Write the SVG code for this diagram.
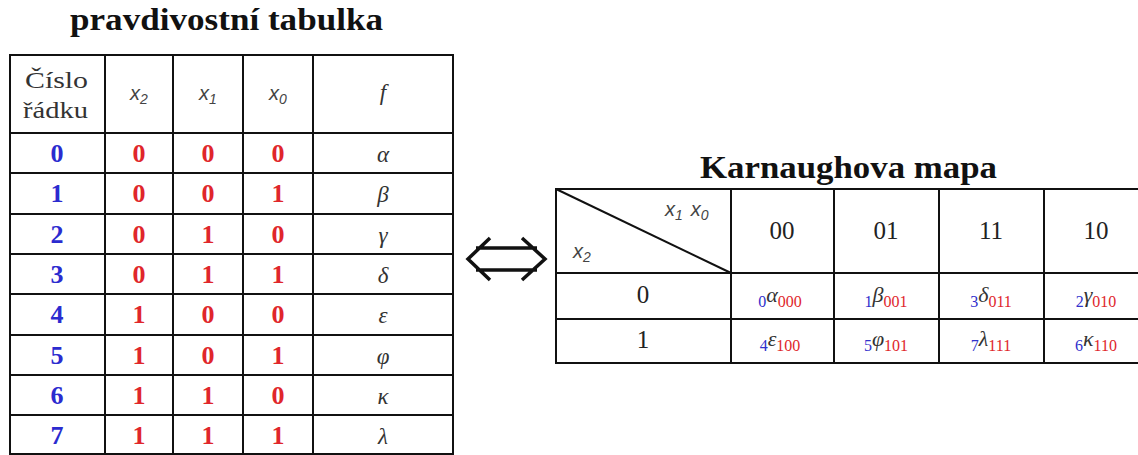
<svg xmlns="http://www.w3.org/2000/svg" width="1138" height="455" viewBox="0 0 1138 455">
<style>
.title{font-family:"Liberation Serif",serif;font-weight:bold;font-size:31px;fill:#111}
.grid line,.grid rect{stroke:#111;stroke-width:2;fill:none}
.num{font-family:"Liberation Serif",serif;font-weight:bold;font-size:26px;text-anchor:middle}
.blue{fill:#2b2bcf}
.red{fill:#e0262b}
.gk{font-family:"Liberation Serif",serif;font-style:italic;font-size:23px;fill:#333;text-anchor:middle}
.var{font-family:"Liberation Sans",sans-serif;font-style:italic;font-size:20px;fill:#444}
.sub{font-size:14px}
.hdr{font-family:"Liberation Serif",serif;font-size:24px;fill:#333}
.km{font-family:"Liberation Serif",serif;font-size:25px;fill:#222;text-anchor:middle}
.cell{font-family:"Liberation Serif",serif;text-anchor:middle}
.ci{font-size:16px;fill:#3030cc}
.cg{font-size:22px;font-style:italic;fill:#333}
.cb{font-size:16px;fill:#e0262b}
</style>
<rect width="1138" height="455" fill="#fff"/>

<g id="truth-table">
<text class="title" x="70" y="30" textLength="313" lengthAdjust="spacingAndGlyphs">pravdivostní tabulka</text>
<g class="grid">
<rect x="10" y="55" width="443" height="399"/>
<line x1="105" y1="55" x2="105" y2="454"/>
<line x1="173" y1="55" x2="173" y2="454"/>
<line x1="243" y1="55" x2="243" y2="454"/>
<line x1="313" y1="55" x2="313" y2="454"/>
<line x1="10" y1="133" x2="453" y2="133"/>
<line x1="10" y1="173" x2="453" y2="173"/>
<line x1="10" y1="214" x2="453" y2="214"/>
<line x1="10" y1="254" x2="453" y2="254"/>
<line x1="10" y1="294" x2="453" y2="294"/>
<line x1="10" y1="335" x2="453" y2="335"/>
<line x1="10" y1="375" x2="453" y2="375"/>
<line x1="10" y1="415" x2="453" y2="415"/>
</g>
<text class="hdr" x="25" y="88" textLength="63" lengthAdjust="spacingAndGlyphs">Číslo</text>
<text class="hdr" x="23" y="118" textLength="65" lengthAdjust="spacingAndGlyphs">řádku</text>
<text class="var" x="139" y="100" text-anchor="middle">x<tspan class="sub" dy="4">2</tspan></text>
<text class="var" x="208" y="100" text-anchor="middle">x<tspan class="sub" dy="4">1</tspan></text>
<text class="var" x="278" y="100" text-anchor="middle">x<tspan class="sub" dy="4">0</tspan></text>
<text class="gk" x="383" y="100">f</text>

<g id="row0"><text class="num blue" x="57" y="162">0</text><text class="num red" x="139" y="162">0</text><text class="num red" x="208" y="162">0</text><text class="num red" x="278" y="162">0</text><text class="gk" x="383" y="162">α</text></g>
<g id="row1"><text class="num blue" x="57" y="202">1</text><text class="num red" x="139" y="202">0</text><text class="num red" x="208" y="202">0</text><text class="num red" x="278" y="202">1</text><text class="gk" x="383" y="202">β</text></g>
<g id="row2"><text class="num blue" x="57" y="243">2</text><text class="num red" x="139" y="243">0</text><text class="num red" x="208" y="243">1</text><text class="num red" x="278" y="243">0</text><text class="gk" x="383" y="243">γ</text></g>
<g id="row3"><text class="num blue" x="57" y="283">3</text><text class="num red" x="139" y="283">0</text><text class="num red" x="208" y="283">1</text><text class="num red" x="278" y="283">1</text><text class="gk" x="383" y="283">δ</text></g>
<g id="row4"><text class="num blue" x="57" y="323">4</text><text class="num red" x="139" y="323">1</text><text class="num red" x="208" y="323">0</text><text class="num red" x="278" y="323">0</text><text class="gk" x="383" y="323">ε</text></g>
<g id="row5"><text class="num blue" x="57" y="364">5</text><text class="num red" x="139" y="364">1</text><text class="num red" x="208" y="364">0</text><text class="num red" x="278" y="364">1</text><text class="gk" x="383" y="364">φ</text></g>
<g id="row6"><text class="num blue" x="57" y="404">6</text><text class="num red" x="139" y="404">1</text><text class="num red" x="208" y="404">1</text><text class="num red" x="278" y="404">0</text><text class="gk" x="383" y="404">κ</text></g>
<g id="row7"><text class="num blue" x="57" y="444">7</text><text class="num red" x="139" y="444">1</text><text class="num red" x="208" y="444">1</text><text class="num red" x="278" y="444">1</text><text class="gk" x="383" y="444">λ</text></g>
</g>

<g id="connectors">
<path d="M490,238 L468,259 L490,280 M522,238 L545,259 L522,280 M476,248 L537,248 M476,270 L537,270" fill="none" stroke="#111" stroke-width="3.5" stroke-linejoin="miter"/>
</g>

<g id="karnaugh-map">
<text class="title" x="700" y="178" textLength="297" lengthAdjust="spacingAndGlyphs">Karnaughova mapa</text>
<g class="grid">
<rect x="556" y="189" width="593" height="174"/>
<line x1="731" y1="189" x2="731" y2="363"/>
<line x1="834" y1="189" x2="834" y2="363"/>
<line x1="939" y1="189" x2="939" y2="363"/>
<line x1="1044" y1="189" x2="1044" y2="363"/>
<line x1="556" y1="273" x2="1149" y2="273"/>
<line x1="556" y1="319" x2="1149" y2="319"/>
<line x1="556" y1="189" x2="731" y2="273"/>
</g>
<text class="var" x="665" y="216">x<tspan class="sub" dy="4">1</tspan><tspan dx="8" dy="-4">x</tspan><tspan class="sub" dy="4">0</tspan></text>
<text class="var" x="573" y="258">x<tspan class="sub" dy="4">2</tspan></text>
<text class="km" x="782" y="239">00</text>
<text class="km" x="886" y="239">01</text>
<text class="km" x="991" y="239">11</text>
<text class="km" x="1096" y="239">10</text>
<text class="km" x="643" y="303">0</text>
<text class="km" x="643" y="348">1</text>
<g id="m0"><text class="cell" x="780" y="307"><tspan class="ci">0</tspan><tspan class="cg" dy="-5">α</tspan><tspan class="cb" dy="5">000</tspan></text></g>
<g id="m1"><text class="cell" x="886" y="307"><tspan class="ci">1</tspan><tspan class="cg" dy="-5">β</tspan><tspan class="cb" dy="5">001</tspan></text></g>
<g id="m3"><text class="cell" x="991" y="307"><tspan class="ci">3</tspan><tspan class="cg" dy="-5">δ</tspan><tspan class="cb" dy="5">011</tspan></text></g>
<g id="m2"><text class="cell" x="1096" y="307"><tspan class="ci">2</tspan><tspan class="cg" dy="-5">γ</tspan><tspan class="cb" dy="5">010</tspan></text></g>
<g id="m4"><text class="cell" x="780" y="351"><tspan class="ci">4</tspan><tspan class="cg" dy="-5">ε</tspan><tspan class="cb" dy="5">100</tspan></text></g>
<g id="m5"><text class="cell" x="886" y="351"><tspan class="ci">5</tspan><tspan class="cg" dy="-5">φ</tspan><tspan class="cb" dy="5">101</tspan></text></g>
<g id="m7"><text class="cell" x="991" y="351"><tspan class="ci">7</tspan><tspan class="cg" dy="-5">λ</tspan><tspan class="cb" dy="5">111</tspan></text></g>
<g id="m6"><text class="cell" x="1096" y="351"><tspan class="ci">6</tspan><tspan class="cg" dy="-5">κ</tspan><tspan class="cb" dy="5">110</tspan></text></g>
</g>
</svg>
